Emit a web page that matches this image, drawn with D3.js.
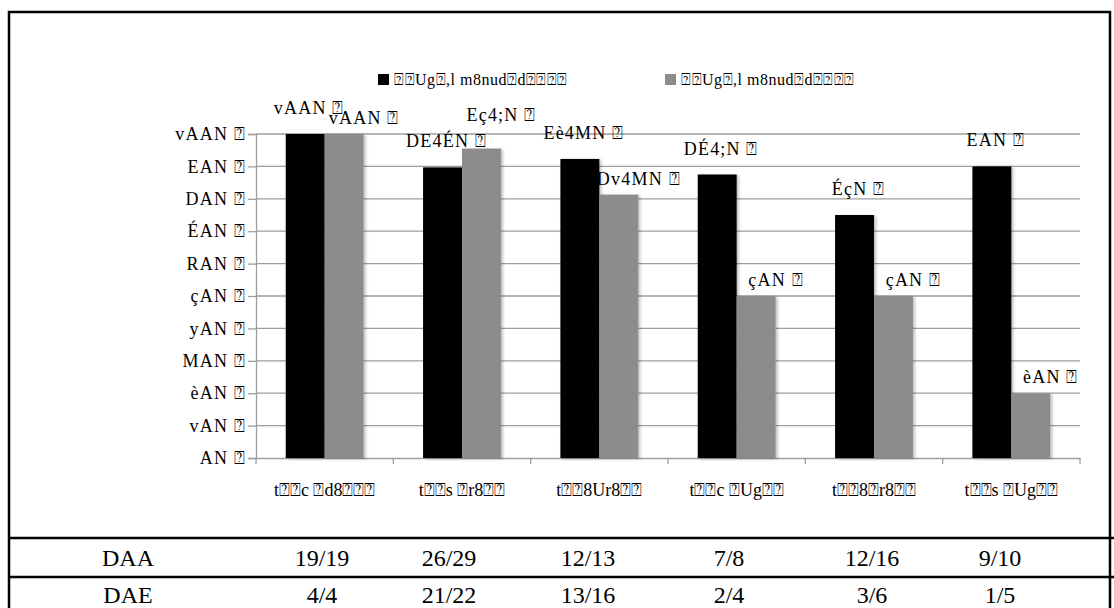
<!DOCTYPE html>
<html>
<head>
<meta charset="utf-8">
<script src="https://cdn.jsdelivr.net/npm/d3@7"></script>
<style>
  body { margin: 0; background: #fff; }
  text { font-family: "Liberation Serif", "DejaVu Serif", serif; fill: #000; }
</style>
</head>
<body>
<svg id="chart"></svg>
<script>
// chart values
const categories = ["t⍰⍰c ⍰d8⍰⍰⍰", "t⍰⍰s ⍰r8⍰⍰", "t⍰⍰8Ur8⍰⍰", "t⍰⍰c ⍰Ug⍰⍰", "t⍰⍰8⍰r8⍰⍰", "t⍰⍰s ⍰Ug⍰⍰"];
const seriesNames = ["⍰⍰Ug⍰,l m8nud⍰d⍰⍰⍰⍰", "⍰⍰Ug⍰,l m8nud⍰d⍰⍰⍰⍰"];
const valuesA = [100, 89.7, 92.3, 87.5, 75, 90];
const valuesB = [100, 95.5, 81.3, 50, 50, 20];
const labelsA = ["vAAN ⍰", "DE4ÉN ⍰", "Eè4MN ⍰", "DÉ4;N ⍰", "ÉçN ⍰", "EAN ⍰"];
const labelsB = ["vAAN ⍰", "Eç4;N ⍰", "Dv4MN ⍰", "çAN ⍰", "çAN ⍰", "èAN ⍰"];
const yTicks = [0, 10, 20, 30, 40, 50, 60, 70, 80, 90, 100];
const yTickLabels = ["AN ⍰", "vAN ⍰", "èAN ⍰", "MAN ⍰", "yAN ⍰", "çAN ⍰", "RAN ⍰", "ÉAN ⍰", "DAN ⍰", "EAN ⍰", "vAAN ⍰"];
const rowNames = ["DAA", "DAE"];
const rowA = ["19/19", "26/29", "12/13", "7/8", "12/16", "9/10"];
const rowB = ["4/4", "21/22", "13/16", "2/4", "3/6", "1/5"];

const W = 1114, H = 608;
const colors = ["#000000", "#8c8c8c"];
const plot = {left: 256, right: 1080, top: 134, bottom: 458};
// the table columns under the chart are not aligned with the bars
const tableColX = [322, 449, 588, 729, 872, 1000];
const tableRowY = [566, 603];

const svg = d3.select("#chart").attr("width", W).attr("height", H);

// soft shadow like the office chart
const defs = svg.append("defs");
const f = defs.append("filter").attr("id", "shadow")
  .attr("x", "-20%").attr("y", "-5%").attr("width", "140%").attr("height", "110%");
f.append("feDropShadow").attr("dx", 2).attr("dy", 1).attr("stdDeviation", 1.5)
  .attr("flood-color", "#000").attr("flood-opacity", 0.25);

// outer frame and table rules
svg.append("rect")
  .attr("x", 9).attr("y", 12).attr("width", 1101).attr("height", 610)
  .attr("fill", "none").attr("stroke", "#000").attr("stroke-width", 2.5);
[538, 577].forEach(y => {
  svg.append("line").attr("x1", 9).attr("x2", W).attr("y1", y).attr("y2", y)
    .attr("stroke", "#000").attr("stroke-width", 2.5);
});

const x0 = d3.scaleBand().domain(categories)
  .range([plot.left, plot.right]).paddingInner(0.433).paddingOuter(0.2165);
const x1 = d3.scaleBand().domain([0, 1]).range([0, x0.bandwidth()]);
const y = d3.scaleLinear().domain([0, 100]).range([plot.bottom, plot.top]);

// gridlines
svg.append("g").selectAll("line")
  .data(yTicks.filter(d => d > 0))
  .join("line")
  .attr("x1", plot.left).attr("x2", plot.right)
  .attr("y1", d => y(d)).attr("y2", d => y(d))
  .attr("stroke", "#9e9e9e").attr("stroke-width", 1.3);

// y axis
const yAxisG = svg.append("g")
  .attr("transform", `translate(${plot.left},0)`)
  .call(d3.axisLeft(y).tickValues(yTicks).tickSize(8).tickPadding(2)
    .tickFormat((d, i) => yTickLabels[i]));
yAxisG.selectAll("path, line").attr("stroke", "#9e9e9e").attr("stroke-width", 1.3);
yAxisG.selectAll("text")
  .attr("font-family", "Liberation Serif").attr("font-size", 18)
  .attr("letter-spacing", 1.2).attr("fill", "#000");

// x axis: labels under band centres, tick marks at band edges
const xAxisG = svg.append("g")
  .attr("transform", `translate(0,${plot.bottom})`)
  .call(d3.axisBottom(x0).tickSize(0).tickPadding(25));
xAxisG.select(".domain").attr("stroke", "#9e9e9e").attr("stroke-width", 1.3);
xAxisG.selectAll("text").attr("font-family", "Liberation Serif").attr("font-size", 18).attr("fill", "#000");
const step = x0.step();
svg.append("g").selectAll("line")
  .data(d3.range(categories.length + 1))
  .join("line")
  .attr("x1", i => plot.left + i * step).attr("x2", i => plot.left + i * step)
  .attr("y1", plot.bottom).attr("y2", plot.bottom + 6)
  .attr("stroke", "#9e9e9e").attr("stroke-width", 1.3);

// bars
const rows = categories.map((c, i) => ({cat: c, vals: [valuesA[i], valuesB[i]], labs: [labelsA[i], labelsB[i]]}));
const groups = svg.append("g").selectAll("g")
  .data(rows)
  .join("g")
  .attr("transform", d => `translate(${x0(d.cat)},0)`);

groups.selectAll("rect")
  .data(d => d.vals.map((v, s) => ({v, s})))
  .join("rect")
  .attr("x", d => x1(d.s))
  .attr("y", d => y(d.v))
  .attr("width", x1.bandwidth())
  .attr("height", d => y(0) - y(d.v))
  .attr("fill", d => colors[d.s])
  .attr("filter", "url(#shadow)");

// value labels
const labelDx = [4, 20], labelDy = [-20, -10];
groups.each(function(d) {
  const g = d3.select(this);
  const texts = d.vals.map((v, s) => g.append("text")
    .attr("x", x1(s) + x1.bandwidth() / 2 + labelDx[s])
    .attr("y", y(v) + labelDy[s])
    .attr("text-anchor", "middle")
    .attr("font-size", 18)
    .attr("letter-spacing", 1.2)
    .text(d.labs[s]));
  // lift the grey label when it would sit on top of the black one
  const a = texts[0].node().getBBox(), b = texts[1].node().getBBox();
  const overlap = a.x < b.x + b.width && b.x < a.x + a.width && a.y < b.y + b.height && b.y < a.y + a.height;
  if (overlap && d.vals[1] > d.vals[0]) {
    texts[1].attr("y", +texts[1].attr("y") - 18);
  }
});

// legend
const legend = svg.append("g").attr("transform", "translate(378,74)");
const legendX = [0, 287];
seriesNames.forEach((name, i) => {
  const g = legend.append("g").attr("transform", `translate(${legendX[i]},0)`);
  g.append("rect").attr("width", 11).attr("height", 11).attr("fill", colors[i]);
  g.append("text").attr("x", 16).attr("y", 11).attr("font-size", 16).attr("letter-spacing", 0.5).text(name);
});

// table under the chart
const tableRows = [{name: rowNames[0], vals: rowA}, {name: rowNames[1], vals: rowB}];
tableRows.forEach((r, k) => {
  svg.append("text").attr("x", 128).attr("y", tableRowY[k]).attr("text-anchor", "middle")
    .attr("font-size", 24).text(r.name);
  svg.append("g").selectAll("text")
    .data(r.vals)
    .join("text")
    .attr("x", (d, i) => tableColX[i])
    .attr("y", tableRowY[k])
    .attr("text-anchor", "middle")
    .attr("font-size", 24)
    .text(d => d);
});
</script>
</body>
</html>
